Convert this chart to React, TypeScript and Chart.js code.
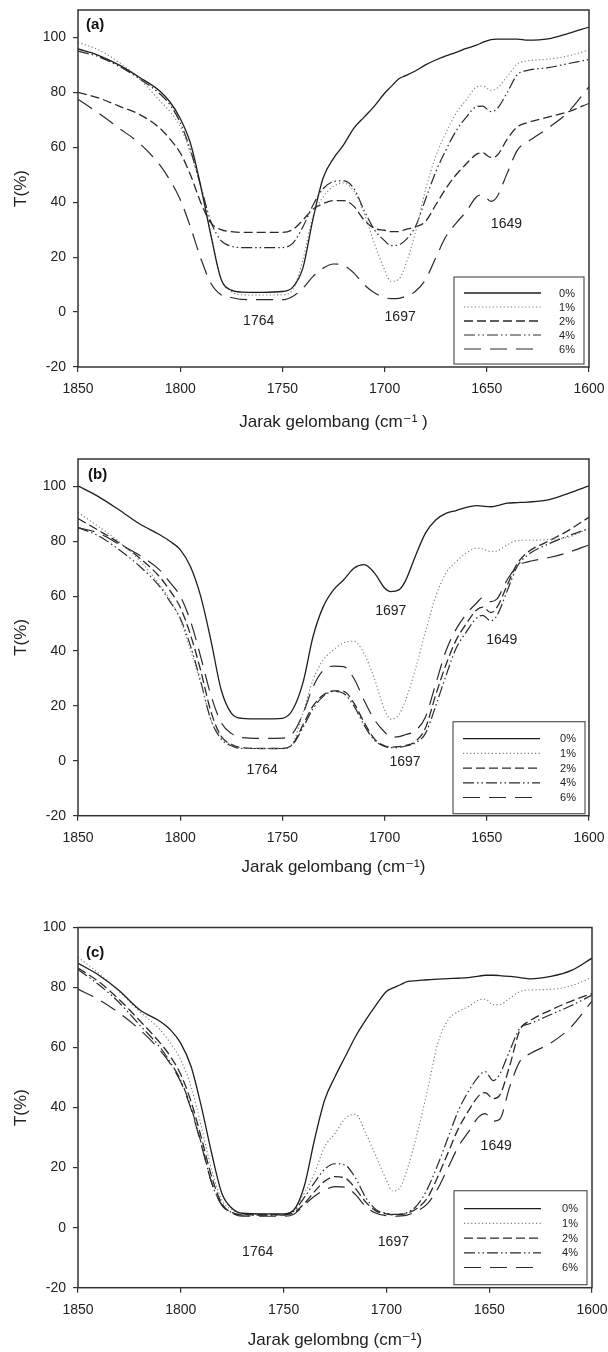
import React, { useEffect, useRef } from 'react';
import { Chart, registerables } from 'chart.js';

Chart.register(...registerables);

// ---------- data ----------
const wavenumbers = [1850, 1840, 1830, 1820, 1810, 1805, 1800, 1795, 1790, 1785, 1780, 1775, 1770, 1760, 1750, 1745, 1740, 1735, 1730, 1725, 1720, 1715, 1710, 1705, 1700, 1697, 1693, 1690, 1685, 1680, 1675, 1670, 1665, 1660, 1655, 1652, 1648, 1645, 1640, 1635, 1630, 1620, 1610, 1600];

const seriesLabels = ['0%', '1%', '2%', '4%', '6%'];
const xTickValues = [1850, 1800, 1750, 1700, 1650, 1600];
const yTickValues = [-20, 0, 20, 40, 60, 80, 100];

// panel (a)
const a0 = [95.8, 93.5, 90, 85.5, 80.5, 76.5, 70.5, 61.5, 46, 28, 12, 8, 7.3, 7.2, 7.5, 9, 16, 34, 49, 56, 61, 67, 71, 75, 79.7, 82, 85, 86, 87.8, 90, 91.8, 93.3, 94.6, 96, 97.2, 98.2, 99.2, 99.4, 99.4, 99.4, 99, 99.5, 101.5, 103.8];
const a1 = [98.2, 95.5, 91, 85, 77, 73, 67.6, 58, 45.6, 28.8, 11.8, 7.5, 6.3, 6.2, 6.3, 8.1, 19, 34.8, 42, 45.8, 47, 44, 36, 25, 15.4, 11.2, 12, 16.6, 28.8, 44.5, 56.7, 65.2, 72.5, 77.3, 82, 82.3, 80.8, 81.5, 85.8, 90.4, 91.5, 92.1, 93.3, 95.5];
const a2 = [80, 78, 75, 72, 67, 63, 58, 50, 40, 32.5, 30, 29.3, 29, 29, 29, 30, 33.5, 37.5, 39.5, 40.6, 40.6, 38.5, 33.5, 30.5, 29.8, 29.3, 29.3, 30, 31, 33, 39, 45, 50, 54, 57.5, 58, 56.3, 57, 63, 67.5, 69, 71, 73, 76];
const a4 = [95, 93, 89.5, 85, 79.5, 75.5, 69, 59, 46, 33, 26, 24, 23.5, 23.5, 23.5, 25, 31, 39, 45, 47.5, 47.8, 45, 37, 30, 26, 24.2, 24.5, 26, 31, 41, 51, 59, 66, 71, 74.8, 75, 73, 74, 80, 86.5, 88, 89, 90.5, 92];
const a6 = [77.5, 72.5, 67, 61.5, 53.6, 48, 41, 31, 19.7, 10.5, 6.3, 5.3, 4.6, 4.5, 4.5, 5.7, 8.7, 13, 16, 17.5, 17, 14.2, 10, 7, 5.3, 4.9, 5, 5.7, 7.5, 11.8, 19.7, 27.5, 32.4, 36.7, 42, 42.7, 40.3, 42, 50.6, 59, 62, 67, 73, 82];

// panel (b)
const b0 = [100.2, 96.3, 91.5, 86.4, 82.4, 80, 77, 70.8, 60, 44, 26, 17.4, 15.5, 15.3, 15.5, 18.6, 28.3, 45.3, 56.2, 62.3, 66, 70.2, 71.5, 68.5, 63, 61.7, 62.3, 65.3, 74.5, 83, 87.8, 90.2, 91.2, 92.4, 93, 92.8, 92.6, 93, 93.9, 94.1, 94.3, 95.1, 97.5, 100.2];
const b1 = [90.5, 85.4, 80, 73.2, 64.1, 58.7, 51.4, 40.4, 28.3, 15, 8.9, 5.8, 4.6, 4.5, 4.6, 6.4, 17.4, 29.5, 36.8, 40.4, 43, 43.6, 39, 30, 18.6, 15.2, 16.8, 21.6, 33.2, 47.1, 59.9, 68.4, 72.6, 75.7, 77.5, 77.2, 76.3, 76.5, 78.7, 80.3, 80.4, 80.6, 81.5, 84.7];
const b2 = [88.3, 84, 79.5, 74, 67, 62, 56, 46, 33, 18, 9, 6, 4.8, 4.5, 4.5, 6, 13, 20, 24, 25.5, 25.3, 21, 14, 8, 5.5, 5, 5.2, 5.5, 7, 12, 24, 35, 44, 50, 55, 56, 54, 56, 64, 72, 76, 80, 84, 88.8];
const b4 = [85, 82, 77, 71, 63.5, 58, 52, 42, 29, 15, 8, 5.5, 4.5, 4.5, 4.5, 6, 12, 19, 23.5, 25.3, 24.5, 20, 13, 7.5, 5.2, 4.8, 4.9, 5.3, 6.5, 10, 20, 31, 41, 47, 52, 53, 51, 53, 62, 71, 75, 79, 82, 84.7];
const b6 = [85, 83, 79, 75, 69.5, 65, 60, 51, 38, 24, 14, 10, 8.5, 8.2, 8.3, 10, 17, 27, 33, 34.5, 34.3, 30, 22, 15, 10.5, 8.6, 8.8, 9.5, 11, 16, 28, 40, 48, 53.5, 57.5, 59.5, 58, 59, 66, 71, 72.5, 74, 76, 78.7];

// panel (c)
const c0 = [88.1, 84.2, 79, 72.6, 68.7, 65.9, 61.4, 53.7, 40.3, 24.8, 11.4, 6.4, 4.8, 4.6, 4.6, 5.9, 13.7, 29.2, 42.6, 50.3, 57, 63.7, 69.2, 74.2, 78.7, 79.8, 81, 82, 82.3, 82.6, 82.8, 83, 83.1, 83.3, 83.8, 84.1, 84.1, 84, 83.7, 83.3, 82.9, 83.7, 85.7, 89.8];
const c1 = [90.1, 84.8, 78.7, 72, 65.9, 61.4, 55.9, 47, 33.7, 19.2, 9.2, 5.9, 4.6, 4.5, 4.6, 6.1, 11.4, 18.1, 27, 31.4, 36.4, 37.8, 31.4, 23.7, 15.9, 12.2, 13.7, 19.2, 31.4, 45.9, 61.4, 69.2, 72, 73.7, 75.9, 76.1, 74.3, 74.3, 76.4, 78.7, 79.2, 79.4, 80.6, 83.4];
const c2 = [86.5, 82, 76, 69, 61.5, 57, 51, 42, 30, 17, 8, 5, 4.3, 4.3, 4.3, 5, 8, 12, 15.5, 17, 16.5, 13, 8.5, 5.5, 4.6, 4.3, 4.4, 4.8, 6.5, 10, 17, 25, 33, 39, 44, 45, 43, 44, 54, 66, 69, 72.5, 75.5, 78];
const c4 = [86, 81, 75, 67.5, 60, 55, 49, 40, 28, 15, 7.5, 5, 4.2, 4.2, 4.2, 5.5, 10, 15, 19.5, 21.3, 20.8, 16.5, 10, 6, 4.8, 4.4, 4.5, 5, 7.5, 13, 21, 30, 39, 45.5, 50.5, 52, 49, 51, 59, 66.5, 68, 71, 74, 77.5];
const c6 = [79.5, 76, 71.5, 66, 59, 54.5, 48.5, 39.5, 27.5, 15, 7.5, 4.8, 3.8, 3.8, 3.8, 4.5, 7.5, 10.5, 12.5, 13.7, 13.5, 11, 7, 4.8, 4, 3.8, 3.9, 4.2, 5.5, 8, 13, 20, 27, 32, 37, 38, 35.5, 36, 47, 55.5, 58, 61.5, 67, 75.5];

// peak annotations (text, wavenumber, T)
const annTextA = ['1764', '1697', '1649'];
const annXA = [1761.6, 1692.4, 1640.4];
const annYA = [-3.4, -1.8, 32];
const annTextB = ['1697', '1649', '1764', '1697'];
const annXB = [1697, 1642.7, 1759.9, 1690];
const annYB = [54.4, 44.1, -3.3, -0.6];
const annTextC = ['1764', '1697', '1649'];
const annXC = [1762.6, 1696.6, 1646.6];
const annYC = [-8, -4.7, 27];

// ---------- styles ----------
const FONT = '"Liberation Sans", Arial, "DejaVu Sans", sans-serif';
const lineStyles = [
  { color: '#1e1e1e', width: 1.3, dash: [] as number[] },
  { color: '#7a7a7a', width: 1.1, dash: [1.2, 2.4] },
  { color: '#2a2a2a', width: 1.3, dash: [9, 4] },
  { color: '#2a2a2a', width: 1.2, dash: [11, 3, 1.5, 3, 1.5, 3] },
  { color: '#2a2a2a', width: 1.2, dash: [17, 9] },
];

type PanelCfg = {
  id: string;
  label: string;
  series: number[][];
  annText: string[];
  annX: number[];
  annY: number[];
  xTitle: string;
  yMax: number;
  canvasTop: number;
  canvasHeight: number;
  areaTop: number;
  areaBottom: number;
  areaRight: number;
  titlePadBottom: number;
  labelDx: number;
  labelDy: number;
  legend: { dr: number; db: number; w: number; h: number; row0: number; step: number };
};

const panels: PanelCfg[] = [
  {
    id: 'a', label: '(a)', series: [a0, a1, a2, a4, a6],
    annText: annTextA, annX: annXA, annY: annYA,
    xTitle: 'Jarak gelombang (cm\u207B\u00B9 )', yMax: 110,
    canvasTop: 0, canvasHeight: 437, areaTop: 10, areaBottom: 367, areaRight: 589, titlePadBottom: 4,
    labelDx: 8, labelDy: 15,
    legend: { dr: 5, db: 3, w: 130, h: 87, row0: 16, step: 14 },
  },
  {
    id: 'b', label: '(b)', series: [b0, b1, b2, b4, b6],
    annText: annTextB, annX: annXB, annY: annYB,
    xTitle: 'Jarak gelombang (cm\u207B\u00B9)', yMax: 110,
    canvasTop: 440, canvasHeight: 442, areaTop: 19, areaBottom: 375.7, areaRight: 589, titlePadBottom: 4,
    labelDx: 10, labelDy: 16,
    legend: { dr: 4, db: 2, w: 132, h: 92, row0: 17, step: 14.7 },
  },
  {
    id: 'c', label: '(c)', series: [c0, c1, c2, c4, c6],
    annText: annTextC, annX: annXC, annY: annYC,
    xTitle: 'Jarak gelombng (cm\u207B\u00B9)', yMax: 100,
    canvasTop: 900, canvasHeight: 452, areaTop: 27.5, areaBottom: 387.7, areaRight: 592, titlePadBottom: 1,
    labelDx: 8, labelDy: 25,
    legend: { dr: 5, db: 3, w: 133, h: 94, row0: 18, step: 14.7 },
  },
];

const extrasPlugin = {
  id: 'panelExtras',
  afterDraw(chart: any, _args: any, opts: any) {
    const cfg: PanelCfg = opts.cfg;
    if (!cfg) return;
    const { ctx, chartArea } = chart;
    const { left, right, top, bottom } = chartArea;
    const xs = chart.scales.x;
    const ys = chart.scales.y;
    ctx.save();
    // frame
    ctx.strokeStyle = '#333';
    ctx.lineWidth = 1.5;
    ctx.setLineDash([]);
    ctx.strokeRect(left, top, right - left, bottom - top);

    // panel label
    ctx.fillStyle = '#111';
    ctx.font = `bold 15px ${FONT}`;
    ctx.textAlign = 'left';
    ctx.textBaseline = 'middle';
    ctx.fillText(cfg.label, left + cfg.labelDx, top + cfg.labelDy);

    // annotations
    ctx.font = `14px ${FONT}`;
    ctx.fillStyle = '#222';
    ctx.textAlign = 'center';
    cfg.annText.forEach((t, i) => {
      ctx.fillText(t, xs.getPixelForValue(cfg.annX[i]), ys.getPixelForValue(cfg.annY[i]));
    });

    // legend box
    const L = cfg.legend;
    const bx = right - L.dr - L.w;
    const by = bottom - L.db - L.h;
    ctx.fillStyle = '#fff';
    ctx.fillRect(bx, by, L.w, L.h);
    ctx.strokeStyle = '#555';
    ctx.lineWidth = 1.2;
    ctx.strokeRect(bx, by, L.w, L.h);
    ctx.font = `11px ${FONT}`;
    ctx.textAlign = 'right';
    chart.data.datasets.forEach((ds: any, i: number) => {
      const yy = by + L.row0 + i * L.step;
      ctx.beginPath();
      ctx.setLineDash(ds.borderDash || []);
      ctx.strokeStyle = ds.borderColor;
      ctx.lineWidth = ds.borderWidth;
      ctx.moveTo(bx + 10, yy);
      ctx.lineTo(bx + 87, yy);
      ctx.stroke();
      ctx.setLineDash([]);
      ctx.fillStyle = '#222';
      ctx.fillText(ds.label, bx + L.w - 9, yy + 0.5);
    });
    ctx.restore();
  },
};

function Panel({ cfg }: { cfg: PanelCfg }) {
  const ref = useRef<HTMLCanvasElement>(null);
  useEffect(() => {
    if (!ref.current) return;
    const tickGrid = {
      display: true,
      drawOnChartArea: false,
      drawTicks: true,
      tickLength: 5,
      color: '#333',
      lineWidth: 1.2,
    };
    const chart = new Chart(ref.current, {
      type: 'line',
      data: {
        datasets: cfg.series.map((s, i) => ({
          label: seriesLabels[i],
          data: wavenumbers.map((w, j) => ({ x: w, y: s[j] })),
          borderColor: lineStyles[i].color,
          borderWidth: lineStyles[i].width,
          borderDash: lineStyles[i].dash,
          pointRadius: 0,
          fill: false,
          cubicInterpolationMode: 'monotone' as const,
        })),
      },
      options: {
        animation: false,
        responsive: false,
        maintainAspectRatio: false,
        devicePixelRatio: 1,
        layout: { padding: { left: 0, right: 608 - cfg.areaRight, top: cfg.areaTop, bottom: 0 } },
        plugins: {
          legend: { display: false },
          tooltip: { enabled: false },
          panelExtras: { cfg },
        } as any,
        scales: {
          x: {
            type: 'linear',
            reverse: true,
            min: 1600,
            max: 1850,
            afterBuildTicks: (scale: any) => {
              scale.ticks = xTickValues.map((v) => ({ value: v }));
            },
            ticks: {
              callback: (v: any) => String(v),
              font: { family: FONT, size: 14 },
              color: '#222',
              padding: 9,
              maxRotation: 0,
              autoSkip: false,
            },
            grid: tickGrid,
            border: { display: false },
            title: {
              display: true,
              text: cfg.xTitle,
              font: { family: FONT, size: 17 },
              color: '#222',
              padding: { top: 4, bottom: cfg.titlePadBottom },
            },
            afterFit: (scale: any) => {
              scale.height = cfg.canvasHeight - cfg.areaBottom;
              scale.paddingLeft = 0;
              scale.paddingRight = 0;
            },
          },
          y: {
            type: 'linear',
            min: -20,
            max: cfg.yMax,
            afterBuildTicks: (scale: any) => {
              scale.ticks = yTickValues.map((v) => ({ value: v }));
            },
            ticks: {
              callback: (v: any) => String(v),
              font: { family: FONT, size: 14 },
              color: '#222',
              padding: 7,
            },
            grid: tickGrid,
            border: { display: false },
            title: {
              display: true,
              text: 'T(%)',
              font: { family: FONT, size: 17 },
              color: '#222',
              padding: { top: 11, bottom: 0 },
            },
            afterFit: (scale: any) => {
              scale.width = 78;
              scale.paddingTop = 0;
              scale.paddingBottom = 0;
            },
          },
        } as any,
      },
      plugins: [extrasPlugin],
    });
    return () => chart.destroy();
  }, [cfg]);
  return (
    <canvas
      ref={ref}
      width={608}
      height={cfg.canvasHeight}
      style={{ position: 'absolute', left: 0, top: cfg.canvasTop, width: 608, height: cfg.canvasHeight }}
    />
  );
}

export default function App() {
  return (
    <div
      style={{
        position: 'absolute',
        left: 0,
        top: 0,
        width: 608,
        height: 1352,
        overflow: 'hidden',
        background: '#fff',
      }}
    >
      {panels.map((p) => (
        <Panel key={p.id} cfg={p} />
      ))}
    </div>
  );
}
